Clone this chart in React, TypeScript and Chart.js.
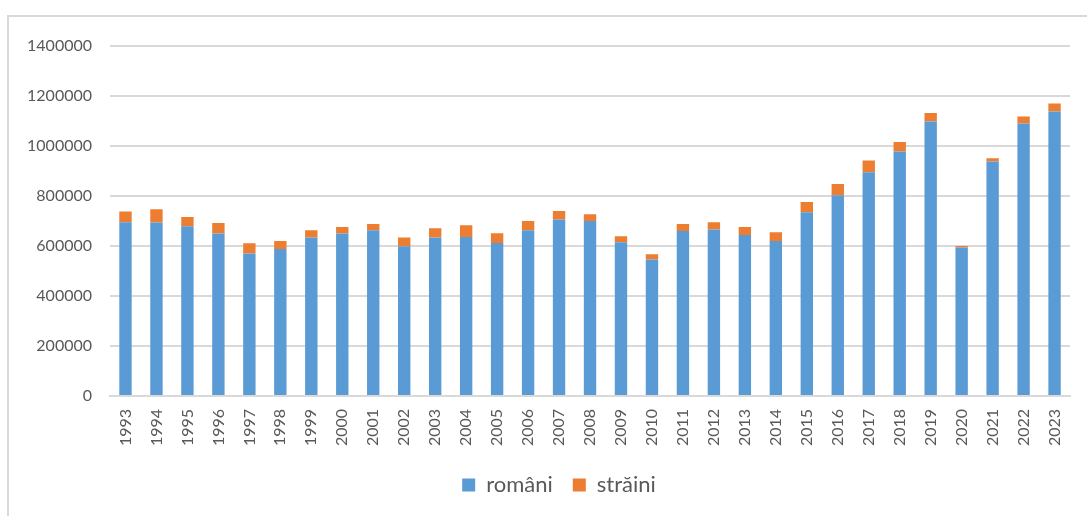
import React, { useEffect, useRef } from "react";
import { Chart, registerables } from "chart.js";

Chart.register(...registerables);

const years = [
  "1993", "1994", "1995", "1996", "1997", "1998", "1999", "2000", "2001", "2002",
  "2003", "2004", "2005", "2006", "2007", "2008", "2009", "2010", "2011", "2012",
  "2013", "2014", "2015", "2016", "2017", "2018", "2019", "2020", "2021", "2022", "2023",
];

const romani = [
  695000, 694000, 679000, 650000, 570000, 588000, 634000, 650000, 663000, 599000,
  634000, 636000, 612000, 663000, 706000, 700000, 615000, 546000, 660000, 666000,
  644000, 620000, 735000, 803000, 895000, 978000, 1098000, 594000, 938000, 1090000, 1138000,
];

const straini = [
  43000, 53000, 37000, 42000, 41000, 32000, 29000, 26000, 25000, 35000,
  37000, 47000, 39000, 37000, 34000, 27000, 24000, 21000, 28000, 29000,
  32000, 35000, 41000, 45000, 47000, 38000, 34000, 6000, 13000, 28000, 32000,
];

const yTicks = { min: 0, max: 1400000, step: 200000 };

const FONT = "Lato, 'Noto Sans', sans-serif";
const TEXT = "#595959";
const GRID = "#d9d9d9";

const legendShift = {
  id: "legendShift",
  afterLayout(chart: any) {
    const lg = chart.legend;
    if (lg) {
      lg.left += 23;
      lg.right += 23;
    }
  },
};

export default function App() {
  const ref = useRef<HTMLCanvasElement | null>(null);

  useEffect(() => {
    document.body.style.overflow = "hidden";
    const canvas = ref.current;
    if (!canvas) return;
    const chart = new Chart(canvas, {
      type: "bar",
      data: {
        labels: years,
        datasets: [
          {
            label: "români",
            data: romani,
            backgroundColor: "#5B9BD5",
            categoryPercentage: 0.8,
            barPercentage: 0.5,
          },
          {
            label: "străini",
            data: straini,
            backgroundColor: "#ED7D31",
            categoryPercentage: 0.8,
            barPercentage: 0.5,
          },
        ],
      },
      plugins: [legendShift],
      options: {
        responsive: false,
        animation: false,
        layout: { padding: { top: 46, right: 15, left: 0, bottom: 10 } },
        plugins: {
          tooltip: { enabled: false },
          legend: {
            position: "bottom",
            labels: {
              boxWidth: 13,
              boxHeight: 13,
              padding: 20,
              color: TEXT,
              font: { family: FONT, size: 22 },
            },
          },
        },
        scales: {
          x: {
            stacked: true,
            grid: { display: false, drawTicks: false },
            border: { display: true, color: GRID, width: 2 },
            ticks: {
              color: TEXT,
              font: { family: FONT, size: 16 },
              minRotation: 90,
              maxRotation: 90,
              padding: 13,
              autoSkip: false,
            },
            afterFit: (s: any) => {
              s.height = 58;
            },
          },
          y: {
            stacked: true,
            min: yTicks.min,
            max: yTicks.max,
            grid: { color: GRID, lineWidth: 2, drawTicks: false },
            border: { display: false },
            ticks: {
              stepSize: yTicks.step,
              color: TEXT,
              font: { family: FONT, size: 16 },
              padding: 18,
              callback: (v: any) => String(v),
            },
            afterFit: (s: any) => {
              s.width = 110;
            },
          },
        },
      },
    });
    return () => chart.destroy();
  }, []);

  return (
    <>
      <div
        style={{
          position: "fixed",
          left: 7,
          top: 15,
          width: 1200,
          height: 700,
          border: "2px solid #d9d9d9",
          boxSizing: "border-box",
        }}
      />
      <canvas
        ref={ref}
        width={1087}
        height={516}
        style={{ position: "fixed", left: 0, top: 0, width: 1087, height: 516 }}
      />
    </>
  );
}
